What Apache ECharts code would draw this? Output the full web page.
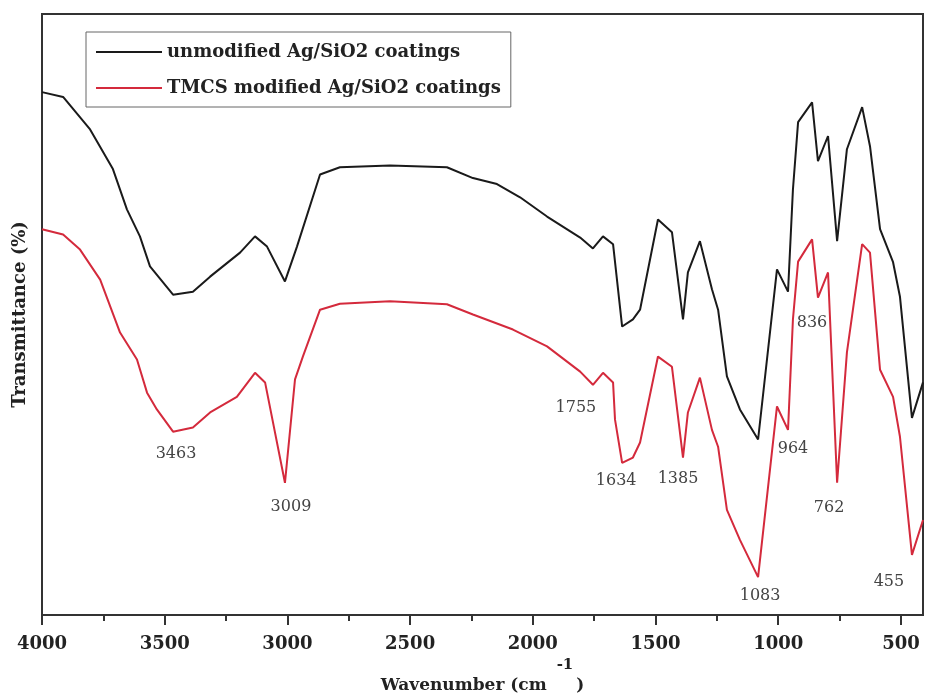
<!DOCTYPE html>
<html>
<head>
<meta charset="utf-8">
<script src="https://cdn.jsdelivr.net/npm/echarts@6/dist/echarts.min.js"></script>
<style>html,body{margin:0;padding:0;background:#fff}#c{width:925px;height:695px}</style>
</head>
<body>
<div id="c"></div>
<script>
// ---- data ----
const seriesNames = ['unmodified Ag/SiO2 coatings', 'TMCS modified Ag/SiO2 coatings'];

const blackWavenumbers = [4000, 3914, 3804, 3711, 3654, 3601, 3560, 3466, 3385, 3315, 3193, 3132, 3083, 3010, 2961, 2867, 2786, 2582, 2350, 2244, 2146, 2052, 1942, 1807, 1755, 1714, 1673, 1636, 1592, 1563, 1490, 1433, 1388, 1368, 1319, 1270, 1245, 1209, 1156, 1082, 1005, 960, 940, 919, 862, 838, 797, 760, 720, 658, 626, 585, 532, 504, 455, 410];
const blackValues = [87.0, 86.2, 80.8, 74.2, 67.5, 63.0, 58.0, 53.3, 53.8, 56.3, 60.3, 63.0, 61.3, 55.5, 61.3, 73.3, 74.5, 74.8, 74.5, 72.7, 71.7, 69.5, 66.3, 62.8, 61.0, 63.0, 61.7, 48.0, 49.2, 50.8, 65.8, 63.7, 49.2, 57.0, 62.2, 54.2, 50.8, 39.7, 34.2, 29.2, 57.5, 53.8, 70.8, 82.0, 85.3, 75.5, 79.7, 62.2, 77.5, 84.5, 78.0, 64.2, 58.7, 53.0, 32.8, 38.7];

const redWavenumbers = [4000, 3914, 3845, 3763, 3682, 3613, 3572, 3532, 3466, 3385, 3315, 3206, 3132, 3091, 3010, 2969, 2937, 2867, 2786, 2582, 2350, 2244, 2081, 1942, 1807, 1755, 1714, 1673, 1665, 1636, 1592, 1563, 1490, 1433, 1388, 1368, 1319, 1270, 1245, 1209, 1156, 1082, 1005, 960, 940, 919, 862, 838, 797, 760, 720, 658, 626, 585, 532, 504, 455, 410];
const redValues = [64.2, 63.3, 60.8, 55.8, 47.0, 42.5, 37.0, 34.2, 30.5, 31.2, 33.7, 36.3, 40.3, 38.7, 22.0, 39.2, 43.0, 50.8, 51.8, 52.2, 51.7, 50.0, 47.5, 44.7, 40.5, 38.3, 40.3, 38.7, 32.5, 25.3, 26.2, 28.7, 43.0, 41.3, 26.2, 33.7, 39.5, 30.8, 28.0, 17.5, 12.5, 6.3, 34.7, 30.8, 49.2, 58.8, 62.5, 52.8, 57.0, 22.0, 43.7, 61.7, 60.3, 40.8, 36.3, 29.7, 10.0, 15.8];

const majorTicks = [4000, 3500, 3000, 2500, 2000, 1500, 1000, 500];
const minorTicks = [3750, 3250, 2750, 2250, 1750, 1250, 750];

// peak annotations: anchor wavenumber on the red curve and label text
const peakWavenumbers = [3466, 3010, 1755, 1636, 1388, 1082, 960, 838, 760, 455];
const peakLabels = ['3463', '3009', '1755', '1634', '1385', '1083', '964', '836', '762', '455'];

// ---- styling / layout ----
const peakOffsets = [[3, 22], [6, 24], [-17, 23], [-6, 18], [-5, 21], [2, 19], [5, 19], [-6, 25], [-8, 25], [-23, 27]];
const X_MIN = 410, X_MAX = 4000;

function zip(xs, ys) { return xs.map((x, i) => [x, ys[i]]); }
const redData = zip(redWavenumbers, redValues);
const blackData = zip(blackWavenumbers, blackValues);

const markData = peakWavenumbers.map((w, i) => {
  const idx = redWavenumbers.indexOf(w);
  return {
    coord: [w, redValues[idx]],
    symbolSize: 0,
    label: { show: true, formatter: peakLabels[i], position: 'inside', offset: peakOffsets[i] }
  };
});

const chart = echarts.init(document.getElementById('c'));
chart.setOption({
  animation: false,
  backgroundColor: '#fff',
  grid: { left: 42, right: 2, top: 14, bottom: 80, show: true, borderColor: '#333', borderWidth: 2, outerBoundsMode: 'none', containLabel: false },
  legend: {
    orient: 'vertical',
    left: 86, top: 32,
    padding: [11, 10, 10, 10],
    itemGap: 18,
    itemWidth: 66, itemHeight: 2,
    icon: 'rect',
    borderColor: '#666', borderWidth: 1,
    textStyle: { fontFamily: 'DejaVu Serif', fontWeight: 'bold', fontSize: 18, color: '#222', lineHeight: 18 },
    data: seriesNames
  },
  xAxis: [{
    type: 'value', inverse: true, min: X_MIN, max: X_MAX,
    name: '{b|Wavenumber (cm}{s|-1}{b|)}',
    nameLocation: 'middle', nameGap: 40,
    nameTextStyle: {
      rich: {
        b: { fontFamily: 'DejaVu Serif', fontWeight: 'bold', fontSize: 17, color: '#222' },
        s: { fontFamily: 'DejaVu Serif', fontWeight: 'bold', fontSize: 15, color: '#222', padding: [0, 3, 40, 10] }
      }
    },
    axisLine: { show: true, lineStyle: { color: '#333', width: 2 } },
    axisTick: { show: true, customValues: majorTicks, length: 10, lineStyle: { color: '#333', width: 2 } },
    axisLabel: { customValues: majorTicks, formatter: v => String(v), margin: 20, fontFamily: 'DejaVu Serif', fontWeight: 'bold', fontSize: 18, color: '#222' },
    splitLine: { show: false }
  }, {
    type: 'value', inverse: true, min: X_MIN, max: X_MAX, position: 'bottom',
    axisLine: { show: false },
    axisTick: { show: true, customValues: minorTicks, length: 6, lineStyle: { color: '#333', width: 2 } },
    axisLabel: { show: false },
    splitLine: { show: false }
  }],
  yAxis: {
    type: 'value', min: 0, max: 100,
    name: 'Transmittance (%)', nameLocation: 'middle', nameGap: 13,
    nameTextStyle: { fontFamily: 'DejaVu Serif', fontWeight: 'bold', fontSize: 18, color: '#222' },
    axisLine: { show: true, lineStyle: { color: '#333', width: 2 } },
    axisTick: { show: false },
    axisLabel: { show: false },
    splitLine: { show: false }
  },
  series: [{
    name: seriesNames[0], type: 'line', data: blackData, symbol: 'none',
    lineStyle: { color: '#1a1a1a', width: 2 }, itemStyle: { color: '#1a1a1a' }
  }, {
    name: seriesNames[1], type: 'line', data: redData, symbol: 'none',
    lineStyle: { color: '#d42a3c', width: 2 }, itemStyle: { color: '#d42a3c' },
    markPoint: {
      symbol: 'circle', symbolSize: 0,
      label: { fontFamily: 'DejaVu Serif', fontSize: 16, color: '#444' },
      data: markData
    }
  }]
});
</script>
</body>
</html>
